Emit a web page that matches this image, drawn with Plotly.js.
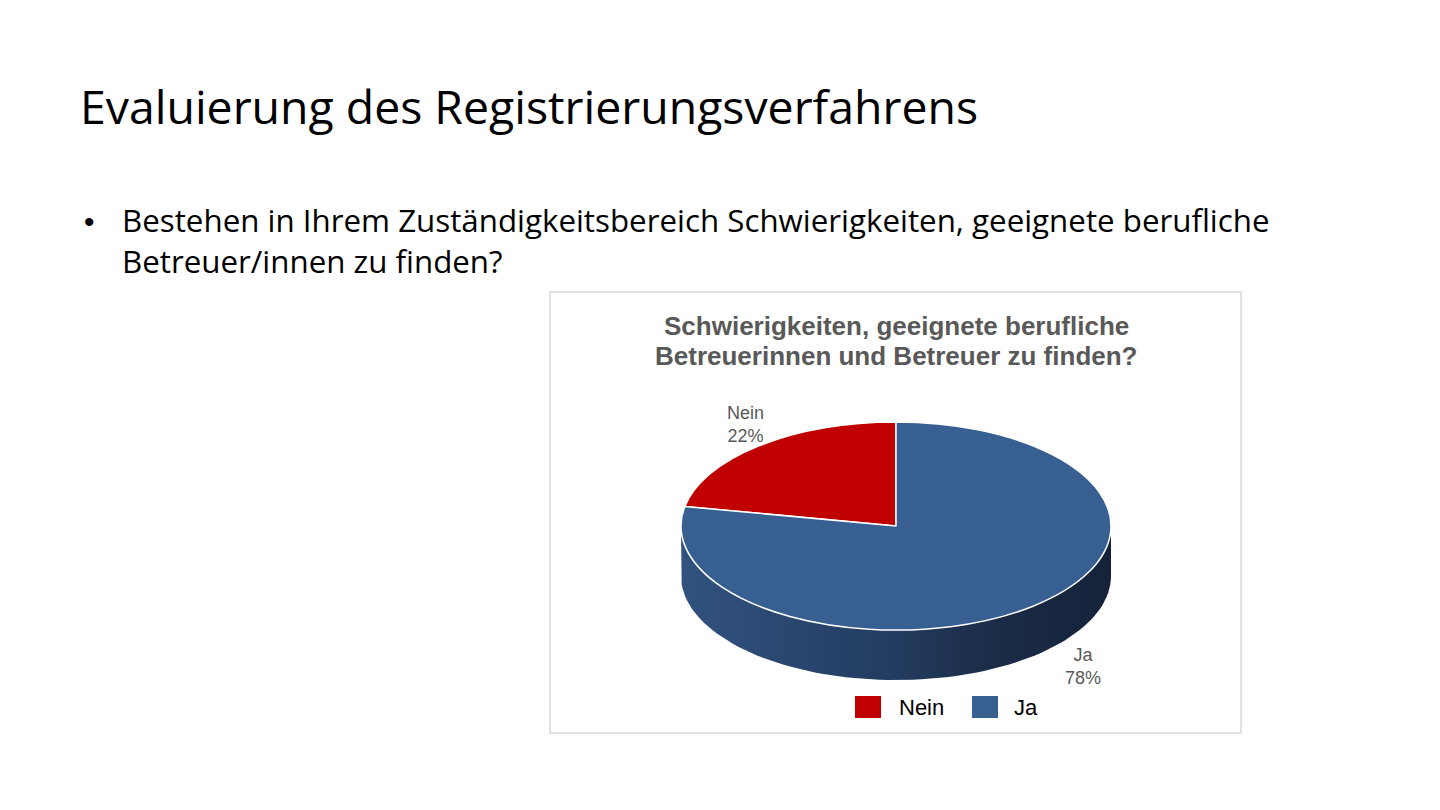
<!DOCTYPE html>
<html><head><meta charset="utf-8">
<script src="https://cdn.plot.ly/plotly-3.0.1.min.js"></script>
<style>html,body{margin:0;padding:0;background:#fff;}#chart{width:1440px;height:810px;}</style>
</head><body><div id="chart"></div>
<script>
// ---- data ----
const slideTitle = 'Evaluierung des Registrierungsverfahrens';
const bulletLines = ['Bestehen in Ihrem Zuständigkeitsbereich Schwierigkeiten, geeignete berufliche', 'Betreuer/innen zu finden?'];
const chartTitleLines = ['Schwierigkeiten, geeignete berufliche', 'Betreuerinnen und Betreuer zu finden?'];
const categories = ['Nein', 'Ja'];
const values = [22, 78];
const colors = ['#C00000', '#375F91'];

// ---- layout constants ----
const W = 1440, H = 810;
const cx = 896, cy = 526, R = 215, squash = 0.484, depth = 50;
const ry = R * squash;

const total = values.reduce((a, b) => a + b, 0);
const pct = values.map(v => Math.round(100 * v / total));

// pie domain (square in px, later squashed vertically)
const dom = {
  x: [(cx - R) / W, (cx + R) / W],
  y: [1 - (cy + R) / H, 1 - (cy - R) / H]
};

// first slice ends at 12 o'clock, lying to its left
const pie = {
  type: 'pie', labels: categories, values: values, sort: false,
  direction: 'clockwise', rotation: -360 * values[0] / total,
  marker: {colors: colors, line: {color: '#FFFFFF', width: 1.5}},
  textinfo: 'none', hoverinfo: 'skip', showlegend: false, domain: dom
};

// side wall (decoration for 3D look)
const wx = [cx - R], wy = [cy];
const N = 80;
for (let i = 0; i <= N; i++) {
  const t = Math.PI - Math.PI * i / N;
  wx.push(cx + R * Math.cos(t));
  wy.push(cy + depth + ry * Math.sin(t));
}
wx.push(cx + R); wy.push(cy);
const wall = {
  type: 'scatter', mode: 'lines', x: wx, y: wy, fill: 'toself',
  line: {width: 0, color: 'rgba(0,0,0,0)'},
  fillgradient: {type: 'horizontal', colorscale: [[0, '#31527F'], [0.45, '#243E63'], [0.75, '#1A2B45'], [1, '#15223A']]},
  hoverinfo: 'skip', showlegend: false
};

const labelPos = [[745, 424], [1083, 666]];
const legendPos = [[855, 897], [972, 1012]];

const ann = [];
ann.push({x: 78, y: 106, text: slideTitle, xanchor: 'left', yanchor: 'middle', showarrow: false,
  font: {family: 'Open Sans, sans-serif', size: 46.4, color: '#000'}});
ann.push({x: 82, y: 221, text: '•', xanchor: 'left', yanchor: 'middle', showarrow: false,
  font: {family: 'Liberation Sans, Arial, sans-serif', size: 30, color: '#000'}});
bulletLines.forEach((t, i) => ann.push({x: 120, y: 220 + 41 * i, text: t, xanchor: 'left', yanchor: 'middle', showarrow: false,
  font: {family: 'Open Sans, sans-serif', size: 31.3, color: '#000'}}));
chartTitleLines.forEach((t, i) => ann.push({x: 896, y: 326 + 30 * i, text: '<b>' + t + '</b>', xanchor: 'center', yanchor: 'middle', showarrow: false,
  font: {family: 'Liberation Sans, Arial, sans-serif', size: 26, color: '#595959'}}));
categories.forEach((c, i) => ann.push({x: labelPos[i][0], y: labelPos[i][1], text: c + '<br>' + pct[i] + '%', xanchor: 'center', yanchor: 'middle', align: 'center', showarrow: false,
  font: {family: 'Liberation Sans, Arial, sans-serif', size: 18, color: '#595959'}}));
categories.forEach((c, i) => ann.push({x: legendPos[i][1], y: 707, text: c, xanchor: 'left', yanchor: 'middle', showarrow: false,
  font: {family: 'Liberation Sans, Arial, sans-serif', size: 22, color: '#000'}}));

const shapes = [{type: 'rect', xref: 'x', yref: 'y', x0: 550, x1: 1241, y0: 292, y1: 733,
  line: {color: '#D9D9D9', width: 1.5}, fillcolor: '#FFFFFF', layer: 'below'}];
categories.forEach((c, i) => shapes.push({type: 'rect', xref: 'x', yref: 'y', x0: legendPos[i][0], x1: legendPos[i][0] + 26, y0: 696, y1: 718,
  line: {width: 0}, fillcolor: colors[i], layer: 'above'}));

const layout = {
  width: W, height: H, margin: {l: 0, r: 0, t: 0, b: 0},
  paper_bgcolor: '#FFFFFF', plot_bgcolor: 'rgba(0,0,0,0)',
  xaxis: {range: [0, W], visible: false, fixedrange: true},
  yaxis: {range: [H, 0], visible: false, fixedrange: true},
  showlegend: false, annotations: ann, shapes: shapes
};

Plotly.newPlot('chart', [wall, pie], layout, {staticPlot: true, displayModeBar: false}).then(gd => {
  const g = gd.querySelector('.pielayer g.trace');
  if (g) {
    g.setAttribute('transform', 'translate(0,' + (cy * (1 - squash)) + ') scale(1,' + squash + ')');
    g.querySelectorAll('path').forEach(p => p.setAttribute('vector-effect', 'non-scaling-stroke'));
  }
});
</script></body></html>
